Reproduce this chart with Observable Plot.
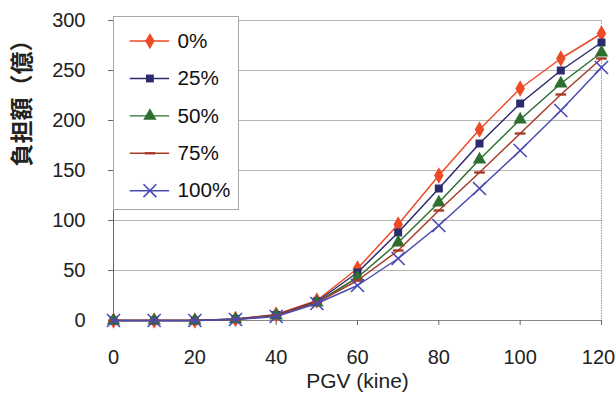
<!DOCTYPE html>
<html><head><meta charset="utf-8">
<script src="https://cdn.jsdelivr.net/npm/d3@7"></script>
<script src="https://cdn.jsdelivr.net/npm/@observablehq/plot@0.6"></script>
<style>
body{margin:0;background:#fff;font-family:"Liberation Sans",Arial,sans-serif}
#wrap{position:relative;width:616px;height:402px}
#legend{position:absolute;left:113px;top:16px;width:126px;height:194px;border:1px solid #a8a8a8;box-sizing:border-box;background:#fff}
#legend svg{position:absolute;left:-1px;top:-1px}
</style></head><body><div id="wrap"><div id="chart"></div><div id="legend"></div></div>
<script>
const pgv = [0,10,20,30,40,50,60,70,80,90,100,110,120];
const seriesNames = ["0%","25%","50%","75%","100%"];
const v0   = [0,0,0,1.5,6,20,52,96,145,191,232,262,287];
const v25  = [0,0,0,1.5,5.5,19,48,88,132,177,217,250,278];
const v50  = [0,0,0,1.2,5,18,43,78,118,161,201,237,268];
const v75  = [0,0,0,1,5,18,40,70,110,148,187,226,262];
const v100 = [0,0,0,1,4,17,35,62,95,132,170,210,253];
const xTicks = [0,20,40,60,80,100,120];
const yTicks = [0,50,100,150,200,250,300];
const colors = ["#ef4a26","#2b2b6e","#2e6e30","#a63c28","#4a4ab4"];

const dashSymbol = {draw(ctx, size){const w=Math.sqrt(size)*0.75,h=1.2;ctx.moveTo(-w,-h);ctx.lineTo(w,-h);ctx.lineTo(w,h);ctx.lineTo(-w,h);ctx.closePath();}};
const symbols = ["diamond","square","triangle",dashSymbol,"times"];
const radii = [5,4.5,5,4,6];

const allVals = [v0,v25,v50,v75,v100];
const rows = [];
seriesNames.forEach((s,i)=>pgv.forEach((x,j)=>rows.push({s,x,y:allVals[i][j]})));

const font = '"Liberation Sans",Arial,sans-serif';

function seriesMarks(i){
  const d = rows.filter(r=>r.s===seriesNames[i]);
  const c = colors[i];
  const m = [Plot.line(d,{x:"x",y:"y",stroke:c,strokeWidth:1.5})];
  if (symbols[i]==="times") m.push(Plot.dot(d,{x:"x",y:"y",symbol:symbols[i],r:radii[i],stroke:c,strokeWidth:1.6}));
  else m.push(Plot.dot(d,{x:"x",y:"y",symbol:symbols[i],r:radii[i],fill:c,stroke:"none"}));
  return m;
}

const lastX = xTicks[xTicks.length-1];
const chart = Plot.plot({
  width:616, height:402,
  marginLeft:113, marginRight:15, marginTop:20, marginBottom:82,
  style:{fontFamily:font, fontSize:"20px", color:"#222", background:"#fff"},
  x:{domain:[0,120], label:null},
  y:{domain:[0,300], label:null},
  marks:[
    Plot.gridY(yTicks.filter(d=>d>0),{stroke:"#b5b5b5",strokeOpacity:1}),
    Plot.ruleX([120],{stroke:"#999",strokeDasharray:"1.5,1"}),
    Plot.ruleY([0],{stroke:"#888"}),
    Plot.ruleX([0],{stroke:"#666"}),
    Plot.axisY({ticks:yTicks, tickSize:5, tickPadding:23, fontSize:20, label:null, stroke:"#666"}),
    Plot.axisX({ticks:xTicks.slice(0,-1), tickSize:5, tickPadding:24, fontSize:20, label:null, stroke:"#666"}),
    Plot.axisX({ticks:[lastX], tickSize:5, tickPadding:24, fontSize:20, label:null, stroke:"#666", text:null}),
    Plot.axisX({ticks:[lastX], tickSize:0, tickPadding:29, fontSize:20, label:null, dx:-3}),
    ...seriesNames.flatMap((s,i)=>seriesMarks(i)),
    Plot.text(["PGV (kine)"],{frameAnchor:"bottom",dy:67,fontSize:21,fill:"#222"}),
    Plot.text(["負担額（億）"],{frameAnchor:"left",dx:-91,dy:-4,rotate:-90,fontSize:23,fontWeight:"bold",fill:"#222",fontFamily:'"Noto Sans CJK JP",sans-serif'})
  ]
});
document.getElementById("chart").append(chart);

const legend = Plot.plot({
  width:126, height:194, margin:0,
  style:{fontFamily:font, background:"transparent"},
  x:{domain:[0,126], range:[0,126], axis:null},
  y:{type:"point", domain:seriesNames, range:[24,178], padding:0, axis:null},
  marks:[
    ...seriesNames.flatMap((s,i)=>{
      const c = colors[i];
      const m = [Plot.ruleY([s],{y:d=>d,x1:17,x2:57,stroke:c,strokeWidth:1.5})];
      if (symbols[i]==="times") m.push(Plot.dot([s],{x:37,y:d=>d,symbol:symbols[i],r:radii[i],stroke:c,strokeWidth:1.6}));
      else m.push(Plot.dot([s],{x:37,y:d=>d,symbol:symbols[i],r:radii[i],fill:c,stroke:"none"}));
      return m;
    }),
    Plot.text(seriesNames,{x:65,y:d=>d,text:d=>d,textAnchor:"start",fontSize:21,fill:"#111"})
  ]
});
document.getElementById("legend").append(legend);
</script></body></html>
